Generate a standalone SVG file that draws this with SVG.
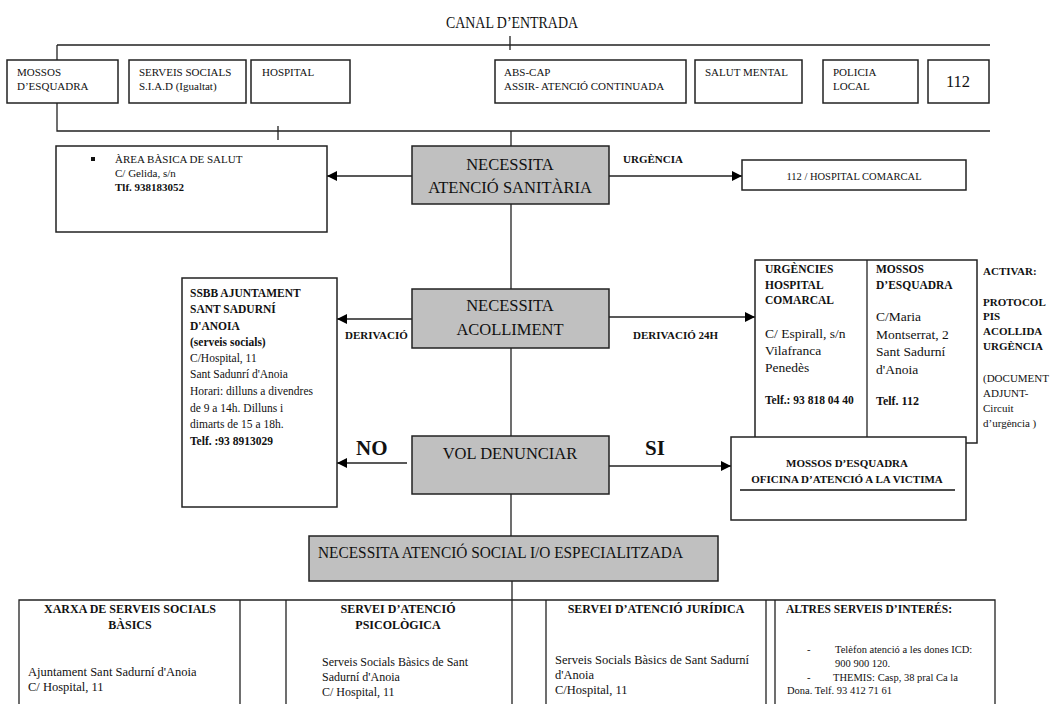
<svg xmlns="http://www.w3.org/2000/svg" width="1050" height="704" viewBox="0 0 1050 704">
<defs>
<marker id="ah" viewBox="0 0 10 10" refX="10" refY="5" markerWidth="10" markerHeight="10" markerUnits="userSpaceOnUse" orient="auto">
<path d="M0,0 L10,5 L0,10 z" fill="#000"/>
</marker>
<style>
text{font-family:"Liberation Serif","Times New Roman",serif;fill:#111}
.box{fill:#fff;stroke:#222;stroke-width:1.5}
.grey{fill:#c0c0c0;stroke:#222;stroke-width:1.5}
.ln{stroke:#222;stroke-width:1.3;fill:none}
.arr{stroke:#222;stroke-width:1.3;fill:none;marker-end:url(#ah)}
.s{font-size:11px}
.m{font-size:13.5px}
.b{font-weight:bold}
.g{font-size:16.5px}
.c{text-anchor:middle}
</style>
</defs>
<rect width="1050" height="704" fill="#fff"/>

<text x="512" y="28" class="c" font-size="17" textLength="132" lengthAdjust="spacingAndGlyphs">CANAL D’ENTRADA</text>

<g id="connectors">
<path class="ln" d="M57,45 H990 M510,36 V50 M57,45 V60 M57,103 V131 H990 M278,126 V140 M511,131 V146"/>
<path class="ln" d="M511,204 V289 M511,348 V436 M511,494 V536 M512,581 V600"/>
<path class="arr" d="M412,176 H327"/>
<path class="arr" d="M609,176 H742"/>
<path class="arr" d="M412,319 H337"/>
<path class="arr" d="M609,317 H755"/>
<path class="arr" d="M407,463 H337"/>
<path class="arr" d="M609,466 H731"/>
<text x="623" y="163" class="s b">URGÈNCIA</text>
<text x="345" y="339" class="s b">DERIVACIÓ</text>
<text x="633" y="339" class="s b">DERIVACIÓ 24H</text>
<text x="356" y="455" class="b" font-size="21">NO</text>
<text x="645" y="455" class="b" font-size="21">SI</text>
</g>

<g id="mossos-top"><rect class="box" x="7" y="60" width="111" height="43"/>
<text x="17" y="76" class="s">MOSSOS</text><text x="17" y="90" class="s">D’ESQUADRA</text></g>
<g id="serveis-top"><rect class="box" x="129" y="60" width="117" height="43"/>
<text x="139" y="76" class="s">SERVEIS SOCIALS</text><text x="139" y="90" class="s">S.I.A.D (Igualtat)</text></g>
<g id="hospital-top"><rect class="box" x="251" y="60" width="99" height="43"/>
<text x="262" y="76" class="s">HOSPITAL</text></g>
<g id="abs-top"><rect class="box" x="495" y="60" width="191" height="43"/>
<text x="504" y="76" class="s">ABS-CAP</text><text x="504" y="90" class="s">ASSIR- ATENCIÓ CONTINUADA</text></g>
<g id="salut-top"><rect class="box" x="695" y="60" width="107" height="43"/>
<text x="705" y="76" class="s">SALUT MENTAL</text></g>
<g id="policia-top"><rect class="box" x="823" y="60" width="95" height="43"/>
<text x="833" y="76" class="s">POLICIA</text><text x="833" y="90" class="s">LOCAL</text></g>
<g id="n112-top"><rect class="box" x="928" y="60" width="61" height="43"/>
<text x="958" y="87" class="g c">112</text></g>

<g id="abs-box"><rect class="box" x="56" y="146" width="271" height="86"/>
<rect x="91" y="157" width="4" height="4" fill="#111"/>
<text x="115" y="163" class="s">ÀREA BÀSICA DE  SALUT</text>
<text x="115" y="177" class="s">C/ Gelida, s/n</text>
<text x="115" y="191" class="s b">Tlf. 938183052</text></g>

<g id="sanitaria"><rect class="grey" x="412" y="146" width="197" height="58"/>
<text x="510" y="170" class="g c">NECESSITA</text>
<text x="510" y="193" class="g c">ATENCIÓ SANITÀRIA</text></g>

<g id="hospital-comarcal"><rect class="box" x="742" y="160" width="224" height="30"/>
<text x="854" y="180" class="c" font-size="10.5">112 / HOSPITAL COMARCAL</text></g>

<g id="ssbb"><rect class="box" x="182" y="278" width="155" height="229"/>
<text x="190" y="297" class="b" font-size="11.5">SSBB AJUNTAMENT</text>
<text x="190" y="313" class="b" font-size="11.5">SANT SADURNÍ</text>
<text x="190" y="330" class="b" font-size="11.5">D'ANOIA</text>
<text x="190" y="346" class="b" font-size="11.5">(serveis socials)</text>
<text x="190" y="362" font-size="11.5">C/Hospital, 11</text>
<text x="190" y="378" font-size="11.5">Sant Sadunrí d'Anoia</text>
<text x="190" y="395" font-size="11.5">Horari: dilluns a divendres</text>
<text x="190" y="412" font-size="11.5">de 9 a 14h. Dilluns i</text>
<text x="190" y="428" font-size="11.5">dimarts de 15 a 18h.</text>
<text x="190" y="445" class="b" font-size="11.5">Telf. :93 8913029</text></g>

<g id="acolliment"><rect class="grey" x="412" y="289" width="197" height="59"/>
<text x="510" y="311" class="g c">NECESSITA</text>
<text x="510" y="335" class="g c">ACOLLIMENT</text></g>

<g id="urgencies"><rect class="box" x="755" y="260" width="222" height="183"/>
<line class="ln" x1="867" y1="260" x2="867" y2="443"/>
<text x="765" y="273" class="b" font-size="11.5">URGÈNCIES</text>
<text x="765" y="289" class="b" font-size="11.5">HOSPITAL</text>
<text x="765" y="304" class="b" font-size="11.5">COMARCAL</text>
<text x="765" y="338" class="m">C/ Espirall, s/n</text>
<text x="765" y="355" class="m">Vilafranca</text>
<text x="765" y="372" class="m">Penedès</text>
<text x="765" y="404" class="b" font-size="11.5">Telf.: 93 818 04 40</text>
<text x="876" y="273" class="b" font-size="11.5">MOSSOS</text>
<text x="876" y="289" class="b" font-size="11.5">D’ESQUADRA</text>
<text x="876" y="321" class="m">C/Maria</text>
<text x="876" y="339" class="m">Montserrat, 2</text>
<text x="876" y="356" class="m">Sant Sadurní</text>
<text x="876" y="374" class="m">d'Anoia</text>
<text x="876" y="405" class="b" font-size="12">Telf. 112</text></g>

<g id="activar">
<text x="983" y="275" class="s b">ACTIVAR:</text>
<text x="983" y="306" class="s b">PROTOCOL</text>
<text x="983" y="320" class="s b">PIS</text>
<text x="983" y="335" class="s b">ACOLLIDA</text>
<text x="983" y="350" class="s b">URGÈNCIA</text>
<text x="983" y="382" class="s">(DOCUMENT</text>
<text x="983" y="397" class="s">ADJUNT-</text>
<text x="983" y="412" class="s">Circuit</text>
<text x="983" y="427" class="s">d’urgència )</text>
</g>

<g id="denunciar"><rect class="grey" x="412" y="436" width="197" height="58"/>
<text x="510" y="459" class="g c">VOL DENUNCIAR</text></g>

<g id="oficina"><rect class="box" x="731" y="437" width="235" height="83"/>
<text x="847" y="467" class="s b c">MOSSOS D’ESQUADRA</text>
<text x="847" y="483" class="s b c">OFICINA D’ATENCIÓ A LA VICTIMA</text>
<line x1="740" y1="490" x2="955" y2="490" stroke="#111" stroke-width="1.3"/></g>

<g id="social"><rect class="grey" x="309" y="536" width="409" height="45"/>
<text x="318" y="558" font-size="16.5" textLength="365" lengthAdjust="spacingAndGlyphs">NECESSITA ATENCIÓ SOCIAL I/O ESPECIALITZADA</text></g>

<g id="table">
<path class="ln" stroke-width="1.5" d="M19,704 V600 H995 V704 M240,600 V704 M286,600 V704 M512,600 V704 M546,600 V704 M766,600 V704 M775,600 V704"/>
<text x="130" y="613" class="b c" font-size="12">XARXA DE SERVEIS SOCIALS</text>
<text x="130" y="629" class="b c" font-size="12">BÀSICS</text>
<text x="28" y="676" font-size="12.5">Ajuntament  Sant Sadurní d'Anoia</text>
<text x="28" y="691" font-size="12.5">C/ Hospital, 11</text>
<text x="398" y="613" class="b c" font-size="12">SERVEI D’ATENCIÓ</text>
<text x="398" y="629" class="b c" font-size="12">PSICOLÒGICA</text>
<text x="322" y="666" font-size="12">Serveis Socials Bàsics de Sant</text>
<text x="322" y="681" font-size="12">Sadurní d'Anoia</text>
<text x="322" y="696" font-size="12">C/ Hospital, 11</text>
<text x="656" y="613" class="b c" font-size="12">SERVEI D’ATENCIÓ JURÍDICA</text>
<text x="555" y="664" font-size="12.5">Serveis Socials Bàsics de Sant Sadurní</text>
<text x="555" y="679" font-size="12.5">d'Anoia</text>
<text x="555" y="694" font-size="12.5">C/Hospital, 11</text>
<text x="786" y="613" class="b" font-size="11.5">ALTRES SERVEIS D’INTERÉS:</text>
<text x="807" y="653" font-size="10.5">-</text>
<text x="835" y="653" font-size="10.5">Telèfon atenció a les dones ICD:</text>
<text x="835" y="667" font-size="10.5">900 900 120.</text>
<text x="807" y="681" font-size="10.5">-</text>
<text x="833" y="681" font-size="10.5">THEMIS: Casp, 38  pral Ca la</text>
<text x="787" y="694" font-size="10.5">Dona. Telf. 93 412 71 61</text>
</g>
</svg>
